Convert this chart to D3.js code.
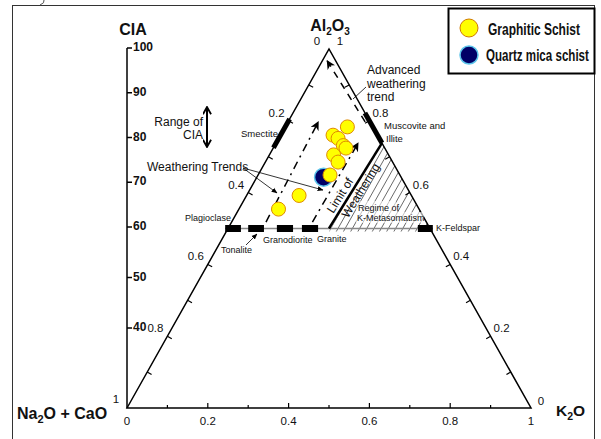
<!DOCTYPE html>
<html>
<head>
<meta charset="utf-8">
<script src="https://cdn.jsdelivr.net/npm/d3@7"></script>
<style>
  body { margin: 0; background: #fff; }
  svg { display: block; }
  text { font-family: "Liberation Sans", Arial, sans-serif; fill: #111; }
</style>
</head>
<body>
<svg id="chart" width="601" height="439"></svg>
<script>
// ---- Data: molar fractions, A = Al2O3, K = K2O (CN = Na2O + CaO = 1 - A - K) ----
const graphiticA = [0.783, 0.760, 0.751, 0.731, 0.724, 0.705, 0.685, 0.649, 0.592, 0.554];
const graphiticK = [0.154, 0.130, 0.147, 0.170, 0.180, 0.159, 0.180, 0.178, 0.130, 0.098];
const quartzMicaA = [0.643];
const quartzMicaK = [0.165];

// CIA axis ticks
const ciaTicks = [40, 50, 60, 70, 80, 90, 100];
// labelled positions on the triangle edges
const edgeLabels = [0.2, 0.4, 0.6, 0.8];
const edgeTicks = d3.range(1, 10).map(i => i / 10);

// mineral / rock segments along the feldspar join (A = 0.5), given as K2O ranges
const feldsparBars = [[-0.007, 0.032], [0.050, 0.089], [0.121, 0.161], [0.183, 0.223], [0.470, 0.507]];
// Smectite on the A–CN edge and muscovite/illite on the A–K edge (A range)
const smectiteA = [0.725, 0.805];
const muscoviteA = [0.738, 0.822];
// granite point on the feldspar join (K) where the limit of weathering starts
const graniteK = 0.25;
const illiteA = 0.738;

// weathering trend arrows: [A0, K0, A1, K1]
const trendLines = [[0.518, 0.085, 0.797, 0.075], [0.518, 0.200, 0.738, 0.203]];
const advancedTrend = [0.797, 0.191, 0.967, 0.012];

// legend entries
const legendNames = ["Graphitic Schist", "Quartz mica schist"];

// ---- Scales ----
const sx = d3.scaleLinear().domain([0, 1]).range([127, 531]);   // along the base
const sy = d3.scaleLinear().domain([0, 1]).range([408, 49]);    // Al2O3 height
const cia = d3.scaleLinear().domain([40, 60, 100]).range([328, 227, 48]);

// ternary (A, K) -> screen
const P = (A, K) => [sx(K + A / 2), sy(A)];
const T = P(1, 0), L = P(0, 0), R = P(0, 1);

const svg = d3.select("#chart");

// outer frame
svg.append("rect").attr("x", 12.5).attr("y", 5.5).attr("width", 582).attr("height", 440)
  .attr("fill", "none").attr("stroke", "#333").attr("stroke-width", 1);
svg.append("path").attr("d", "M44,0 Q45,3 40,5").attr("fill", "none").attr("stroke", "#555");

// markers
const defs = svg.append("defs");
defs.append("marker").attr("id", "head").attr("viewBox", "0 0 10 10")
  .attr("refX", 9).attr("refY", 5).attr("markerWidth", 9).attr("markerHeight", 9)
  .attr("markerUnits", "userSpaceOnUse").attr("orient", "auto")
  .append("path").attr("d", "M0,0 L10,5 L0,10 L3,5 Z").attr("fill", "#000");
defs.append("marker").attr("id", "small").attr("viewBox", "0 0 10 10")
  .attr("refX", 9).attr("refY", 5).attr("markerWidth", 6).attr("markerHeight", 6)
  .attr("markerUnits", "userSpaceOnUse").attr("orient", "auto")
  .append("path").attr("d", "M0,1 L10,5 L0,9 Z").attr("fill", "#000");
defs.append("marker").attr("id", "chev").attr("viewBox", "0 0 10 10")
  .attr("refX", 9).attr("refY", 5).attr("markerWidth", 9).attr("markerHeight", 9)
  .attr("markerUnits", "userSpaceOnUse").attr("orient", "auto-start-reverse")
  .append("path").attr("d", "M1,0.5 L9,5 L1,9.5").attr("fill", "none").attr("stroke", "#000").attr("stroke-width", 2);

// ---- Hatched K-metasomatism field ----
const gP = P(0.5, graniteK), iP = P(illiteA, 1 - illiteA), kP = P(0.5, 0.5);
defs.append("clipPath").attr("id", "kfield").append("path")
  .attr("d", `M${gP[0]},${gP[1] + 3} L${iP[0]},${iP[1]} L${kP[0] + 2},${kP[1] + 3} Z`);
const hatch = svg.append("g").attr("clip-path", "url(#kfield)");
const dirX = T[0] - L[0], dirY = T[1] - L[1];
d3.range(300, 480, 7.2).forEach(x0 => {
  hatch.append("line").attr("x1", x0).attr("y1", 232)
    .attr("x2", x0 + dirX * 0.3).attr("y2", 232 + dirY * 0.3)
    .attr("stroke", "#444").attr("stroke-width", 0.8);
});

// ---- Triangle ----
svg.append("path").attr("d", `M${L[0]},${L[1]} L${T[0]},${T[1]} L${R[0]},${R[1]} Z`)
  .attr("fill", "none").attr("stroke", "#000").attr("stroke-width", 1.5).attr("stroke-linejoin", "miter");

const norm = (x, y) => { const d = Math.hypot(x, y); return [x / d, y / d]; };
const nLeft = norm(T[1] - L[1], -(T[0] - L[0])).map(v => -v);   // inward of left edge
const nRight = norm(R[1] - T[1], -(R[0] - T[0])).map(v => -v);  // inward of right edge
const ticks = svg.append("g").attr("stroke", "#000").attr("stroke-width", 1.2);
edgeTicks.forEach(v => {
  // left edge: 0 at apex, 1 at lower left
  const pl = [T[0] + v * (L[0] - T[0]), T[1] + v * (L[1] - T[1])];
  ticks.append("line").attr("x1", pl[0]).attr("y1", pl[1])
    .attr("x2", pl[0] + nLeft[0] * 5).attr("y2", pl[1] + nLeft[1] * 5);
  // right edge: 0 at lower right, 1 at apex
  const pr = [R[0] + v * (T[0] - R[0]), R[1] + v * (T[1] - R[1])];
  ticks.append("line").attr("x1", pr[0]).attr("y1", pr[1])
    .attr("x2", pr[0] + nRight[0] * 5).attr("y2", pr[1] + nRight[1] * 5);
  // base
  const len = Math.round(v * 10) % 2 === 0 ? 5 : 3;
  ticks.append("line").attr("x1", sx(v)).attr("y1", L[1]).attr("x2", sx(v)).attr("y2", L[1] - len);
});

const numStyle = s => s.attr("font-size", 11.5).attr("fill", "#333").attr("text-anchor", "middle")
  .attr("dominant-baseline", "middle");
edgeLabels.forEach(v => {
  const pl = [T[0] + v * (L[0] - T[0]), T[1] + v * (L[1] - T[1])];
  svg.append("text").attr("x", pl[0] - 12).attr("y", pl[1] - 7).text(v).call(numStyle);
  const pr = [R[0] + v * (T[0] - R[0]), R[1] + v * (T[1] - R[1])];
  svg.append("text").attr("x", pr[0] + 11).attr("y", pr[1] - 7).text(v).call(numStyle);
});
[0, 0.2, 0.4, 0.6, 0.8, 1].forEach(v => {
  svg.append("text").attr("x", sx(v)).attr("y", 422).text(v).call(numStyle);
});
svg.append("text").attr("x", T[0] - 12).attr("y", 42).text("0").call(numStyle);
svg.append("text").attr("x", T[0] + 11).attr("y", 42).text("1").call(numStyle);
svg.append("text").attr("x", L[0] - 11).attr("y", 400).text("1").call(numStyle);
svg.append("text").attr("x", R[0] + 10).attr("y", 402).text("0").call(numStyle);

// ---- CIA axis ----
const ciaAxis = svg.append("g");
ciaAxis.append("line").attr("x1", 127).attr("x2", 127).attr("y1", cia(100)).attr("y2", L[1])
  .attr("stroke", "#000").attr("stroke-width", 1.5);
ciaTicks.forEach(t => {
  ciaAxis.append("line").attr("x1", 127).attr("x2", 132).attr("y1", cia(t)).attr("y2", cia(t))
    .attr("stroke", "#000").attr("stroke-width", 1.5);
  ciaAxis.append("text").attr("x", 133).attr("y", cia(t)).attr("dominant-baseline", "middle")
    .attr("font-size", 12).attr("font-weight", "bold").attr("fill", "#111").text(t);
});
svg.append("text").attr("x", 133).attr("y", 35).attr("text-anchor", "middle")
  .attr("font-size", 16).attr("font-weight", "bold").text("CIA");

// ---- Feldspar join, bars and limit of weathering ----
const j0 = P(0.5, 0), j1 = P(0.5, 0.5);
svg.append("line").attr("x1", j0[0] - 3).attr("x2", j1[0] + 3).attr("y1", j0[1]).attr("y2", j0[1])
  .attr("stroke", "#888").attr("stroke-width", 1.5);
feldsparBars.forEach(([k0, k1]) => {
  const a = P(0.5, k0), b = P(0.5, k1);
  svg.append("rect").attr("x", a[0]).attr("y", a[1] - 3.5).attr("width", b[0] - a[0]).attr("height", 7)
    .attr("fill", "#000");
});
svg.append("line").attr("x1", gP[0]).attr("y1", gP[1]).attr("x2", iP[0]).attr("y2", iP[1])
  .attr("stroke", "#000").attr("stroke-width", 2.5);

// thick segments for smectite and muscovite / illite
const sm0 = P(smectiteA[0], 0), sm1 = P(smectiteA[1], 0);
svg.append("line").attr("x1", sm0[0]).attr("y1", sm0[1]).attr("x2", sm1[0]).attr("y2", sm1[1])
  .attr("stroke", "#000").attr("stroke-width", 5);
const mu0 = P(muscoviteA[0], 1 - muscoviteA[0]), mu1 = P(muscoviteA[1], 1 - muscoviteA[1]);
svg.append("line").attr("x1", mu0[0]).attr("y1", mu0[1]).attr("x2", mu1[0]).attr("y2", mu1[1])
  .attr("stroke", "#000").attr("stroke-width", 5);

// ---- Trend arrows ----
trendLines.forEach(([a0, k0, a1, k1]) => {
  const p0 = P(a0, k0), p1 = P(a1, k1);
  svg.append("line").attr("x1", p0[0]).attr("y1", p0[1]).attr("x2", p1[0]).attr("y2", p1[1])
    .attr("stroke", "#000").attr("stroke-width", 1.5).attr("stroke-dasharray", "8,5,2,5")
    .attr("marker-end", "url(#head)");
});
{
  const [a0, k0, a1, k1] = advancedTrend;
  const p0 = P(a0, k0), p1 = P(a1, k1);
  svg.append("line").attr("x1", p0[0]).attr("y1", p0[1]).attr("x2", p1[0]).attr("y2", p1[1])
    .attr("stroke", "#000").attr("stroke-width", 1.5).attr("stroke-dasharray", "7,6")
    .attr("marker-end", "url(#head)");
}

// ---- Samples ----
svg.append("g").selectAll("circle").data(quartzMicaA.map((a, i) => P(a, quartzMicaK[i])))
  .join("circle").attr("cx", d => d[0]).attr("cy", d => d[1]).attr("r", 9)
  .attr("fill", "#000066").attr("stroke", "#5cc4ea").attr("stroke-width", 1.5);
svg.append("g").selectAll("circle").data(graphiticA.map((a, i) => P(a, graphiticK[i])))
  .join("circle").attr("cx", d => d[0]).attr("cy", d => d[1]).attr("r", 7)
  .attr("fill", "#ffff00").attr("stroke", "#e08a00").attr("stroke-width", 1);

// ---- Annotations ----
const small = (x, y, t, size = 9, anchor = "start") =>
  svg.append("text").attr("x", x).attr("y", y).attr("font-size", size).attr("text-anchor", anchor).text(t);

small(367, 74, "Advanced", 12);
small(367, 87.5, "weathering", 12);
small(367, 101, "trend", 12);
svg.append("line").attr("x1", 366).attr("y1", 87).attr("x2", 353).attr("y2", 99).attr("stroke", "#000").attr("stroke-width", 0.8);

small(203, 126, "Range of", 12, "end");
small(203, 139, "CIA", 12, "end");
svg.append("line").attr("x1", 207).attr("x2", 207).attr("y1", 107).attr("y2", 147)
  .attr("stroke", "#000").attr("stroke-width", 2)
  .attr("marker-start", "url(#chev)").attr("marker-end", "url(#chev)");

small(147, 171, "Weathering Trends", 12);
svg.append("line").attr("x1", 243).attr("y1", 168).attr("x2", 277).attr("y2", 193)
  .attr("stroke", "#000").attr("stroke-width", 0.8).attr("marker-end", "url(#small)");
svg.append("line").attr("x1", 243).attr("y1", 168).attr("x2", 323).attr("y2", 190)
  .attr("stroke", "#000").attr("stroke-width", 0.8).attr("marker-end", "url(#small)");

small(278, 137, "Smectite", 9.5, "end");
small(384, 129, "Muscovite and", 9.5);
small(386, 142, "Illite", 9.5);
small(185, 221, "Plagioclase", 9);
small(221, 253, "Tonalite", 9);
svg.append("line").attr("x1", 246).attr("y1", 245).attr("x2", 257).attr("y2", 234)
  .attr("stroke", "#000").attr("stroke-width", 0.8).attr("marker-end", "url(#small)");
small(263, 243, "Granodiorite", 9);
small(317, 242, "Granite", 9);
small(436, 231, "K-Feldspar", 9);

// regime label with a pale backing
svg.append("rect").attr("x", 356).attr("y", 201).attr("width", 40).attr("height", 11).attr("fill", "#fff").attr("opacity", 0.6);
svg.append("rect").attr("x", 356).attr("y", 212).attr("width", 68).attr("height", 11).attr("fill", "#fff").attr("opacity", 0.6);
small(358, 210.5, "Regime of", 9);
small(357, 221, "K-Metasomatism", 9);

// rotated label along the limit of weathering
const ang = Math.atan2(iP[1] - gP[1], iP[0] - gP[0]) * 180 / Math.PI;
const lim = svg.append("g").attr("transform", `translate(${gP[0]},${gP[1]}) rotate(${ang})`);
lim.append("text").attr("x", 34).attr("y", -4).attr("text-anchor", "middle").attr("font-size", 12).text("Limit of");
lim.append("text").attr("x", 49).attr("y", 11).attr("text-anchor", "middle").attr("font-size", 12).text("Weathering");

// ---- Vertex titles ----
const al = svg.append("text").attr("x", 330).attr("y", 31).attr("text-anchor", "middle")
  .attr("font-size", 16).attr("font-weight", "bold");
al.append("tspan").text("Al");
al.append("tspan").attr("font-size", 10).attr("dy", 4).text("2");
al.append("tspan").attr("dy", -4).text("O");
al.append("tspan").attr("font-size", 10).attr("dy", 4).text("3");

const cn = svg.append("text").attr("x", 17).attr("y", 419).attr("font-size", 16).attr("font-weight", "bold");
cn.append("tspan").text("Na");
cn.append("tspan").attr("font-size", 11).attr("dy", 4).text("2");
cn.append("tspan").attr("dy", -4).text("O + CaO");

const ko = svg.append("text").attr("x", 556).attr("y", 416).attr("font-size", 15.5).attr("font-weight", "bold");
ko.append("tspan").text("K");
ko.append("tspan").attr("font-size", 10.5).attr("dy", 4).text("2");
ko.append("tspan").attr("dy", -4).text("O");

// ---- Legend ----
const lg = svg.append("g");
lg.append("rect").attr("x", 448.5).attr("y", 8.5).attr("width", 146).attr("height", 65)
  .attr("fill", "#fff").attr("stroke", "#000").attr("stroke-width", 2);
lg.append("circle").attr("cx", 469).attr("cy", 28).attr("r", 9).attr("fill", "#ffff00").attr("stroke", "#d07a00");
lg.append("circle").attr("cx", 469).attr("cy", 55).attr("r", 9).attr("fill", "#000066").attr("stroke", "#5cc4ea").attr("stroke-width", 1.5);
// condensed bold labels: squeeze horizontally to the available width
const legendSpots = [[488, 35, 92], [486, 61, 103]];
legendNames.forEach((name, i) => {
  const [x, y, w] = legendSpots[i];
  const g = lg.append("g");
  const t = g.append("text").attr("x", 0).attr("y", 0).attr("font-size", 17)
    .attr("font-weight", "bold").text(name);
  const natural = t.node().getComputedTextLength();
  g.attr("transform", `translate(${x},${y}) scale(${w / natural},1)`);
});
</script>
</body>
</html>
